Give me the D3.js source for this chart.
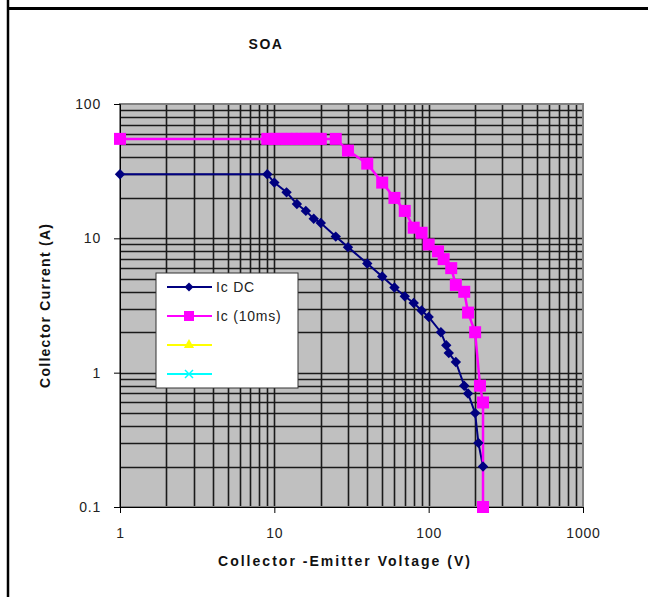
<!DOCTYPE html>
<html><head><meta charset="utf-8">
<script src="https://cdn.jsdelivr.net/npm/d3@7"></script>
<style>body{margin:0;background:#fff;} svg{display:block;} text{font-family:Arial,"Liberation Sans",sans-serif;}</style>
</head><body><svg id="c" width="648" height="597"></svg>
<script>
const title = "SOA";
const xLabel = "Collector -Emitter Voltage (V)";
const yLabel = "Collector Current (A)";
const xTicks = [1, 10, 100, 1000];
const yTicks = [0.1, 1, 10, 100];
const seriesNames = ["Ic DC", "Ic (10ms)", "", ""];

const dcV = [1, 9, 10, 12, 14, 16, 18, 20, 25, 30, 40, 50, 60, 70, 80, 90, 100, 120, 130, 135, 150, 170, 180, 200, 210, 225];
const dcI = [30, 30, 26, 22, 18, 16, 14, 13, 10.3, 8.6, 6.5, 5.2, 4.3, 3.7, 3.3, 2.9, 2.6, 2.0, 1.6, 1.4, 1.2, 0.8, 0.7, 0.5, 0.3, 0.2];

const msV = [1, 9, 10, 11, 12, 13, 14, 15, 16, 17, 18, 19, 20, 25, 30, 40, 50, 60, 70, 80, 90, 100, 115, 125, 140, 150, 170, 180, 200, 215, 225, 225];
const msI = [55, 55, 55, 55, 55, 55, 55, 55, 55, 55, 55, 55, 55, 55, 45, 36, 26, 20, 16, 12, 11, 9, 8, 7, 6, 4.5, 4, 2.8, 2, 0.8, 0.6, 0.1];

const svg = d3.select("#c");
const L = 120, R = 583, T = 104, B = 507;
const x = d3.scaleLog().domain([1, 1000]).range([L, R]);
const y = d3.scaleLog().domain([0.1, 100]).range([B, T]);

// page frame
svg.append("line").attr("x1", 8).attr("x2", 648).attr("y1", 8.5).attr("y2", 8.5).attr("stroke", "#000").attr("stroke-width", 3);
svg.append("line").attr("x1", 8).attr("x2", 8).attr("y1", 0).attr("y2", 597).attr("stroke", "#000").attr("stroke-width", 2.5);

// plot background
svg.append("rect").attr("x", L).attr("y", T).attr("width", R - L).attr("height", B - T).attr("fill", "#c0c0c0");

// grid
const gx = [], gy = [];
for (let d = 1; d < 1000; d *= 10) for (let k = 1; k <= 9; k++) gx.push(d * k);
for (let d = 0.1; d < 100; d *= 10) for (let k = 1; k <= 9; k++) gy.push(+(d * k).toPrecision(3));
const grid = svg.append("g");
grid.selectAll(".gx").data(gx.filter(v => v > 1)).enter().append("line")
  .attr("x1", d => Math.round(x(d)) + 0.5).attr("x2", d => Math.round(x(d)) + 0.5)
  .attr("y1", T).attr("y2", B).attr("stroke", "#1a1a1a").attr("stroke-width", 1.6);
grid.selectAll(".gy").data(gy.filter(v => v > 0.1)).enter().append("line")
  .attr("y1", d => Math.round(y(d)) + 0.5).attr("y2", d => Math.round(y(d)) + 0.5)
  .attr("x1", L).attr("x2", R).attr("stroke", "#1a1a1a").attr("stroke-width", 1.6);

// plot border
svg.append("rect").attr("x", L).attr("y", T).attr("width", R - L).attr("height", B - T)
  .attr("fill", "none").attr("stroke", "#808080").attr("stroke-width", 2);

// axes
const xAxis = svg.append("g").attr("transform", `translate(0,${B})`)
  .call(d3.axisBottom(x).tickValues(xTicks).tickFormat(d3.format("d")).tickSize(6).tickPadding(15));
const yAxis = svg.append("g").attr("transform", `translate(${L},0)`)
  .call(d3.axisLeft(y).tickValues(yTicks).tickFormat(d => String(d)).tickSize(6).tickPadding(13));
[xAxis, yAxis].forEach(a => {
  a.select(".domain").attr("stroke", "#000").attr("stroke-width", 1);
  a.selectAll(".tick line").attr("stroke", "#000");
  a.selectAll(".tick text").attr("font-size", 14).attr("letter-spacing", "0.8px").attr("fill", "#222").attr("font-family", "Arial, 'Liberation Sans', sans-serif");
});

// series
const dc = dcV.map((v, i) => [v, dcI[i]]);
const ms = msV.map((v, i) => [v, msI[i]]);
const line = d3.line().x(d => x(d[0])).y(d => y(d[1]));
svg.append("path").datum(dc).attr("d", line).attr("fill", "none").attr("stroke", "#000080").attr("stroke-width", 2);
svg.append("path").datum(ms).attr("d", line).attr("fill", "none").attr("stroke", "#ff00ff").attr("stroke-width", 2.5);
const diamond = "M0,-5.2L5.2,0L0,5.2L-5.2,0Z";
svg.selectAll(".dcm").data(dc).enter().append("path").attr("d", diamond)
  .attr("transform", d => `translate(${x(d[0])},${y(d[1])})`).attr("fill", "#000080");
svg.selectAll(".msm").data(ms).enter().append("rect")
  .attr("x", d => x(d[0]) - 6).attr("y", d => y(d[1]) - 6).attr("width", 12).attr("height", 12).attr("fill", "#ff00ff");

// legend
const lg = svg.append("g");
lg.append("rect").attr("x", 156).attr("y", 273).attr("width", 142).attr("height", 115)
  .attr("fill", "#fff").attr("stroke", "#333").attr("stroke-width", 1);
const legColors = ["#000080", "#ff00ff", "#ffff00", "#00ffff"];
seriesNames.forEach((n, i) => {
  const yy = 287 + i * 29;
  lg.append("line").attr("x1", 167).attr("x2", 212).attr("y1", yy).attr("y2", yy).attr("stroke", legColors[i]).attr("stroke-width", 2);
  const cx = 189;
  if (i === 0) lg.append("path").attr("d", "M0,-4.5L4.5,0L0,4.5L-4.5,0Z").attr("transform", `translate(${cx},${yy})`).attr("fill", legColors[i]);
  if (i === 1) lg.append("rect").attr("x", cx - 5).attr("y", yy - 5).attr("width", 10).attr("height", 10).attr("fill", legColors[i]);
  if (i === 2) lg.append("path").attr("d", d3.symbol().type(d3.symbolTriangle).size(45)).attr("transform", `translate(${cx},${yy})`).attr("fill", legColors[i]);
  if (i === 3) lg.append("path").attr("d", "M-4,-4L4,4M-4,4L4,-4").attr("transform", `translate(${cx},${yy})`).attr("stroke", legColors[i]).attr("stroke-width", 1.5);
  lg.append("text").attr("x", 216).attr("y", yy + 5).attr("font-size", 14).attr("letter-spacing", "0.8px").attr("fill", "#222").text(n);
});

// titles
svg.append("text").attr("x", 266).attr("y", 49).attr("text-anchor", "middle").attr("font-size", 14).attr("font-weight", "bold").attr("letter-spacing", "1.5px").attr("fill", "#111").text(title);
svg.append("text").attr("x", 344).attr("y", 566).attr("text-anchor", "middle").attr("font-size", 14).attr("font-weight", "bold")
  .attr("textLength", 252).attr("lengthAdjust", "spacing").attr("fill", "#111").text(xLabel);
svg.append("text").attr("transform", "translate(50,306) rotate(-90)").attr("text-anchor", "middle").attr("font-size", 14).attr("font-weight", "bold")
  .attr("textLength", 164).attr("lengthAdjust", "spacing").attr("fill", "#111").text(yLabel);
</script></body></html>
